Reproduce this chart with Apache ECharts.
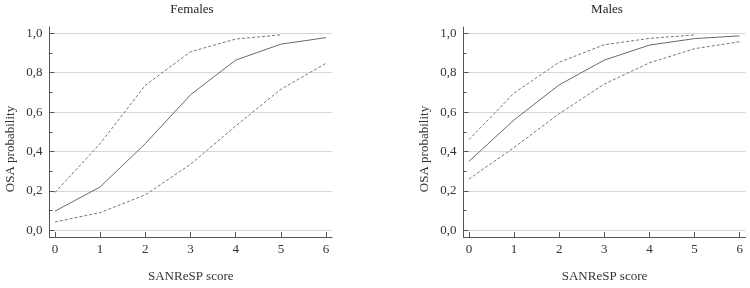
<!DOCTYPE html>
<html lang="en">
<head>
  <meta charset="UTF-8">
  <title>OSA probability</title>
  <script src="https://cdn.jsdelivr.net/npm/echarts@6/dist/echarts.min.js"></script>
  <style>
    html, body { margin: 0; padding: 0; background: #fff; }
    #chart { width: 750px; height: 288px; }
  </style>
</head>
<body>
  <div id="chart"></div>
<script>
  // SANReSP score 0..6
  const scores = [0, 1, 2, 3, 4, 5, 6];
  const yTicks = [0, 0.2, 0.4, 0.6, 0.8, 1.0];
  const yMinor = [0.1, 0.3, 0.5, 0.7, 0.9];

  const femalesMid = [0.097, 0.22, 0.44, 0.688, 0.864, 0.945, 0.978];
  const femalesUpper = [0.192, 0.44, 0.736, 0.906, 0.971, 0.992];
  const femalesLower = [0.042, 0.09, 0.18, 0.335, 0.53, 0.716, 0.848];

  const malesMid = [0.35, 0.56, 0.738, 0.864, 0.94, 0.973, 0.987];
  const malesUpper = [0.46, 0.697, 0.853, 0.942, 0.974, 0.992];
  const malesLower = [0.26, 0.42, 0.592, 0.742, 0.85, 0.922, 0.957];

  const font = 'Liberation Serif';
  const txt = '#333';
  const axisCol = '#555';

  const pairs = vals => vals.map((v, i) => [scores[i], v]);
  const fmt = v => v.toFixed(1).replace('.', ',');

  const grids = [
    { left: 49.5, right: 418, top: 27, bottom: 45 },
    { left: 463.5, right: 4.5, top: 27, bottom: 45 },
  ];

  const xAxes = [0, 1].map(i => ({
    type: 'value', gridIndex: i, min: -0.12, max: 6.13,
    name: 'SANReSP score', nameLocation: 'middle', nameGap: 33,
    nameTextStyle: { fontFamily: font, fontSize: 13, color: txt },
    axisLine: { onZero: false, lineStyle: { color: axisCol, width: 1 } },
    axisTick: { inside: true, length: 5, customValues: scores, lineStyle: { color: axisCol } },
    axisLabel: { customValues: scores, fontFamily: font, fontSize: 13, color: txt, margin: 6 },
    splitLine: { show: false },
  }));

  const yAxes = [];
  [0, 1].forEach(i => {
    yAxes.push({
      type: 'value', gridIndex: i, position: 'left', min: -0.034, max: 1.032,
      name: 'OSA probability', nameLocation: 'middle', nameGap: 32,
      nameTextStyle: { fontFamily: font, fontSize: 13, color: txt, padding: [0, 0, 0, -34] },
      axisLine: { show: true, onZero: false, lineStyle: { color: axisCol, width: 1 } },
      axisTick: { inside: true, length: 5, customValues: yTicks, lineStyle: { color: axisCol } },
      axisLabel: { customValues: yTicks, formatter: fmt, fontFamily: font, fontSize: 13, color: txt, margin: 7 },
      splitLine: { show: true, lineStyle: { color: '#d8d8d8', width: 1 } },
    });
    // minor ticks
    yAxes.push({
      type: 'value', gridIndex: i, position: 'left', min: -0.034, max: 1.032,
      axisLine: { show: false, onZero: false },
      axisTick: { inside: true, length: 3, customValues: yMinor, lineStyle: { color: axisCol } },
      axisLabel: { show: false },
      splitLine: { show: false },
    });
  });

  const solid = { color: '#6a6a6a', width: 1, type: 'solid' };
  const dashed = { color: '#777', width: 1, type: [3, 2] };
  const line = (data, xi, yi, style) => ({
    type: 'line', xAxisIndex: xi, yAxisIndex: yi, data: pairs(data),
    symbol: 'none', lineStyle: style, silent: true, animation: false,
  });

  const chart = echarts.init(document.getElementById('chart'));
  chart.setOption({
    animation: false,
    title: [
      { text: 'Females', left: 187, top: -2, textAlign: 'center',
        textStyle: { fontFamily: font, fontSize: 13, fontWeight: 'normal', color: '#222' } },
      { text: 'Males', left: 602, top: -2, textAlign: 'center',
        textStyle: { fontFamily: font, fontSize: 13, fontWeight: 'normal', color: '#222' } },
    ],
    grid: grids,
    xAxis: xAxes,
    yAxis: yAxes,
    series: [
      line(femalesMid, 0, 0, solid),
      line(femalesUpper, 0, 0, dashed),
      line(femalesLower, 0, 0, dashed),
      line(malesMid, 1, 2, solid),
      line(malesUpper, 1, 2, dashed),
      line(malesLower, 1, 2, dashed),
    ],
  });
</script>
</body>
</html>
